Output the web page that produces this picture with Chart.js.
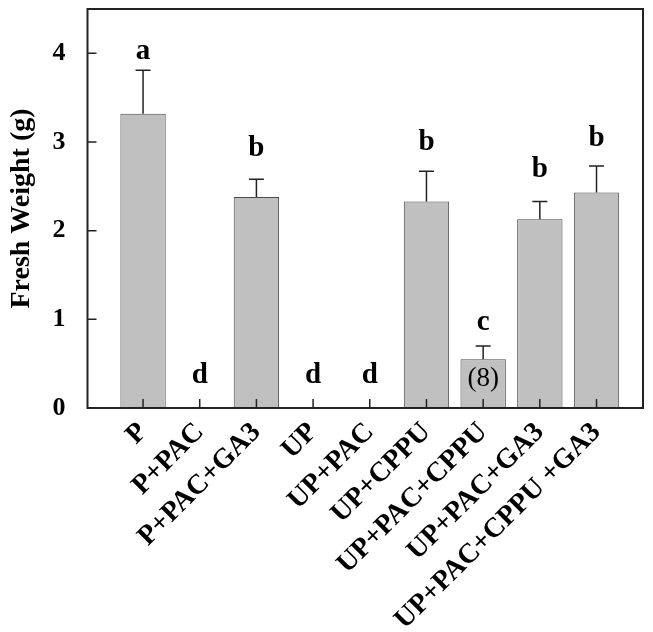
<!DOCTYPE html>
<html>
<head>
<meta charset="utf-8">
<script src="https://cdn.jsdelivr.net/npm/chart.js@4"></script>
<style>
  html, body { margin: 0; padding: 0; background: #fff; }
  canvas { display: block; }
</style>
</head>
<body>
<canvas id="c" width="653" height="632"></canvas>
<script>
const categories = ['P', 'P+PAC', 'P+PAC+GA3', 'UP', 'UP+PAC', 'UP+CPPU', 'UP+PAC+CPPU', 'UP+PAC+GA3', 'UP+PAC+CPPU +GA3'];
const freshWeight = [3.32, 0, 2.38, 0, 0, 2.33, 0.55, 2.13, 2.43];
const errorUp = [0.49, 0, 0.20, 0, 0, 0.34, 0.15, 0.20, 0.30];
const letters = ['a', 'd', 'b', 'd', 'd', 'b', 'c', 'b', 'b'];
const letterAt = [3.94, 0.285, 2.84, 0.285, 0.285, 2.91, 0.885, 2.61, 2.96];
const notes = ['', '', '', '', '', '', '(8)', '', ''];
const yTicks = [0, 1, 2, 3, 4];

const SERIF = '"Liberation Serif", "Times New Roman", serif';

const overlay = {
  id: 'overlay',
  afterDatasetsDraw(chart) {
    const ctx = chart.ctx;
    const xs = chart.scales.x, ys = chart.scales.y;
    const a = chart.chartArea;
    ctx.save();
    // error bars (upward only)
    ctx.strokeStyle = '#222';
    ctx.lineWidth = 1.5;
    freshWeight.forEach((v, i) => {
      if (!errorUp[i]) return;
      const x = xs.getPixelForValue(i);
      const y0 = ys.getPixelForValue(v);
      const y1 = ys.getPixelForValue(v + errorUp[i]);
      ctx.beginPath();
      ctx.moveTo(x, y0); ctx.lineTo(x, y1);
      ctx.moveTo(x - 7.5, y1); ctx.lineTo(x + 7.5, y1);
      ctx.stroke();
    });
    // significance letters
    ctx.fillStyle = '#000';
    ctx.font = 'bold 29px ' + SERIF;
    ctx.textAlign = 'center';
    ctx.textBaseline = 'alphabetic';
    letters.forEach((t, i) => {
      ctx.fillText(t, xs.getPixelForValue(i), ys.getPixelForValue(letterAt[i]));
    });
    // notes inside bars
    ctx.font = '27px ' + SERIF;
    ctx.textBaseline = 'middle';
    notes.forEach((t, i) => {
      if (!t) return;
      ctx.fillText(t, xs.getPixelForValue(i), ys.getPixelForValue(freshWeight[i] * 0.6));
    });
    // inward tick marks
    ctx.strokeStyle = '#222';
    ctx.lineWidth = 1.5;
    ctx.beginPath();
    yTicks.forEach(t => {
      const y = ys.getPixelForValue(t);
      ctx.moveTo(a.left, y); ctx.lineTo(a.left + 9, y);
    });
    categories.forEach((c, i) => {
      const x = xs.getPixelForValue(i);
      ctx.moveTo(x, a.bottom); ctx.lineTo(x, a.bottom - 9);
    });
    ctx.stroke();
    // frame
    ctx.strokeStyle = '#222';
    ctx.lineWidth = 2;
    ctx.strokeRect(a.left, a.top, a.right - a.left, a.bottom - a.top);
    ctx.restore();
  }
};

new Chart(document.getElementById('c'), {
  type: 'bar',
  data: {
    datasets: [{
      data: freshWeight.map((v, i) => ({ x: i, y: v })),
      backgroundColor: '#c0c0c0',
      borderColor: '#4a4a4a',
      borderWidth: 1,
      barPercentage: 0.8,
      categoryPercentage: 1.0
    }]
  },
  options: {
    responsive: false,
    animation: false,
    layout: { padding: { left: 0, top: 9, right: 10, bottom: 0 } },
    plugins: { legend: { display: false }, tooltip: { enabled: false } },
    scales: {
      x: {
        type: 'linear',
        offset: false,
        bounds: 'data',
        min: -0.98,
        max: 8.82,
        grid: { display: false },
        border: { display: false },
        afterBuildTicks(scale) { scale.ticks = categories.map((_, i) => ({ value: i })); },
        afterFit(scale) { scale.height = 224; scale.paddingLeft = 0; scale.paddingRight = 0; },
        ticks: {
          autoSkip: false,
          minRotation: 45,
          maxRotation: 45,
          padding: 0,
          color: '#000',
          font: { family: SERIF, size: 28, weight: 'bold' },
          callback: (v) => categories[v]
        }
      },
      y: {
        min: 0,
        max: 4.5,
        grid: { display: false },
        border: { display: false },
        afterBuildTicks(scale) { scale.ticks = yTicks.map(v => ({ value: v })); },
        afterFit(scale) { scale.width = 87.5; scale.paddingTop = 0; scale.paddingBottom = 0; },
        ticks: {
          padding: 14,
          color: '#000',
          font: { family: SERIF, size: 26, weight: 'bold' }
        },
        title: {
          display: true,
          text: 'Fresh Weight (g)',
          color: '#000',
          font: { family: SERIF, size: 28, weight: 'bold' },
          padding: { top: 5, bottom: 0 }
        }
      }
    }
  },
  plugins: [overlay]
});
</script>
</body>
</html>
